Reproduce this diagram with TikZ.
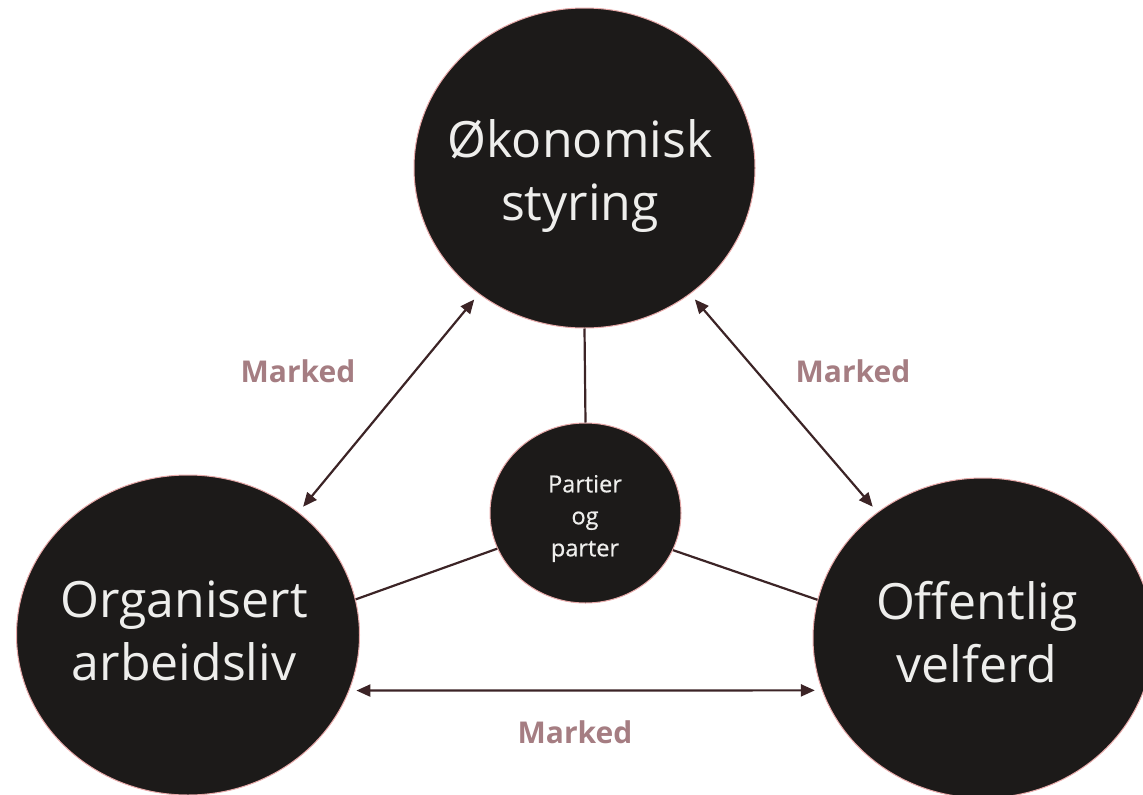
\documentclass[tikz,border=0pt]{standalone}
\usepackage{fontspec}
\setmainfont{Open Sans}
\newfontfamily\midfont[FakeBold=0.6]{Open Sans}
\usetikzlibrary{shapes.geometric,arrows.meta}
\definecolor{discfill}{RGB}{28,26,25}
\definecolor{rim}{RGB}{232,170,170}
\definecolor{lnk}{RGB}{60,36,38}
\definecolor{lbl}{RGB}{165,125,130}
\definecolor{txt}{RGB}{238,238,236}
\begin{document}
\begin{tikzpicture}[x=1pt,y=-1pt,
 disc/.style={ellipse, fill=discfill, draw=rim, line width=1pt, inner sep=0pt},
 bigtext/.style={text=txt, font=\fontsize{50}{63}\selectfont, align=center, inner sep=0pt},
 smalltext/.style={text=txt, font=\midfont\fontsize{23.5}{32}\selectfont, align=center, inner sep=0pt},
 marklbl/.style={text=lbl, font=\bfseries\fontsize{30}{32}\selectfont, anchor=base, inner sep=0pt},
 link/.style={draw=lnk, line width=2.2pt},
 twoway/.style={link, {Triangle[length=14pt,width=12pt]}-{Triangle[length=14pt,width=12pt]}, shorten <=7pt, shorten >=7pt}
]
\useasboundingbox (0,0) rectangle (1143,795);
% discs
\node[disc, minimum width=341pt, minimum height=320pt] (top) at (584.5,168) {};
\node[disc, minimum width=343pt, minimum height=320pt] (left) at (188,635) {};
\node[disc, minimum width=340pt, minimum height=320pt] (right) at (983,638) {};
\node[disc, minimum width=191pt, minimum height=180pt] (mid) at (585.5,513) {};
% texts
\node[bigtext] (ttop) at (580,176) {Økonomisk\\styring};
\node[bigtext] (tleft) at (184,630.5) {Organisert\\arbeidsliv};
\node[bigtext] (tright) at (977,632) {Offentlig\\velferd};
\node[smalltext] (tmid) at (585,518.5) {Partier\\og\\parter};
% plain links
\draw[link] (top.south) -- (mid.north);
\draw[link] (left.12) -- (mid.202);
\draw[link] (mid.337) -- (right.167);
% two-way arrows
\draw[twoway] (left.48.5) -- (top.230.5);
\draw[twoway] (top.310) -- (right.130.2);
\draw[twoway] (left.-19.6) -- (right.198.6);
% labels
\node[marklbl] (m1) at (298,382) {Marked};
\node[marklbl] (m2) at (853,382) {Marked};
\node[marklbl] (m3) at (575,743) {Marked};
\end{tikzpicture}
\end{document}
